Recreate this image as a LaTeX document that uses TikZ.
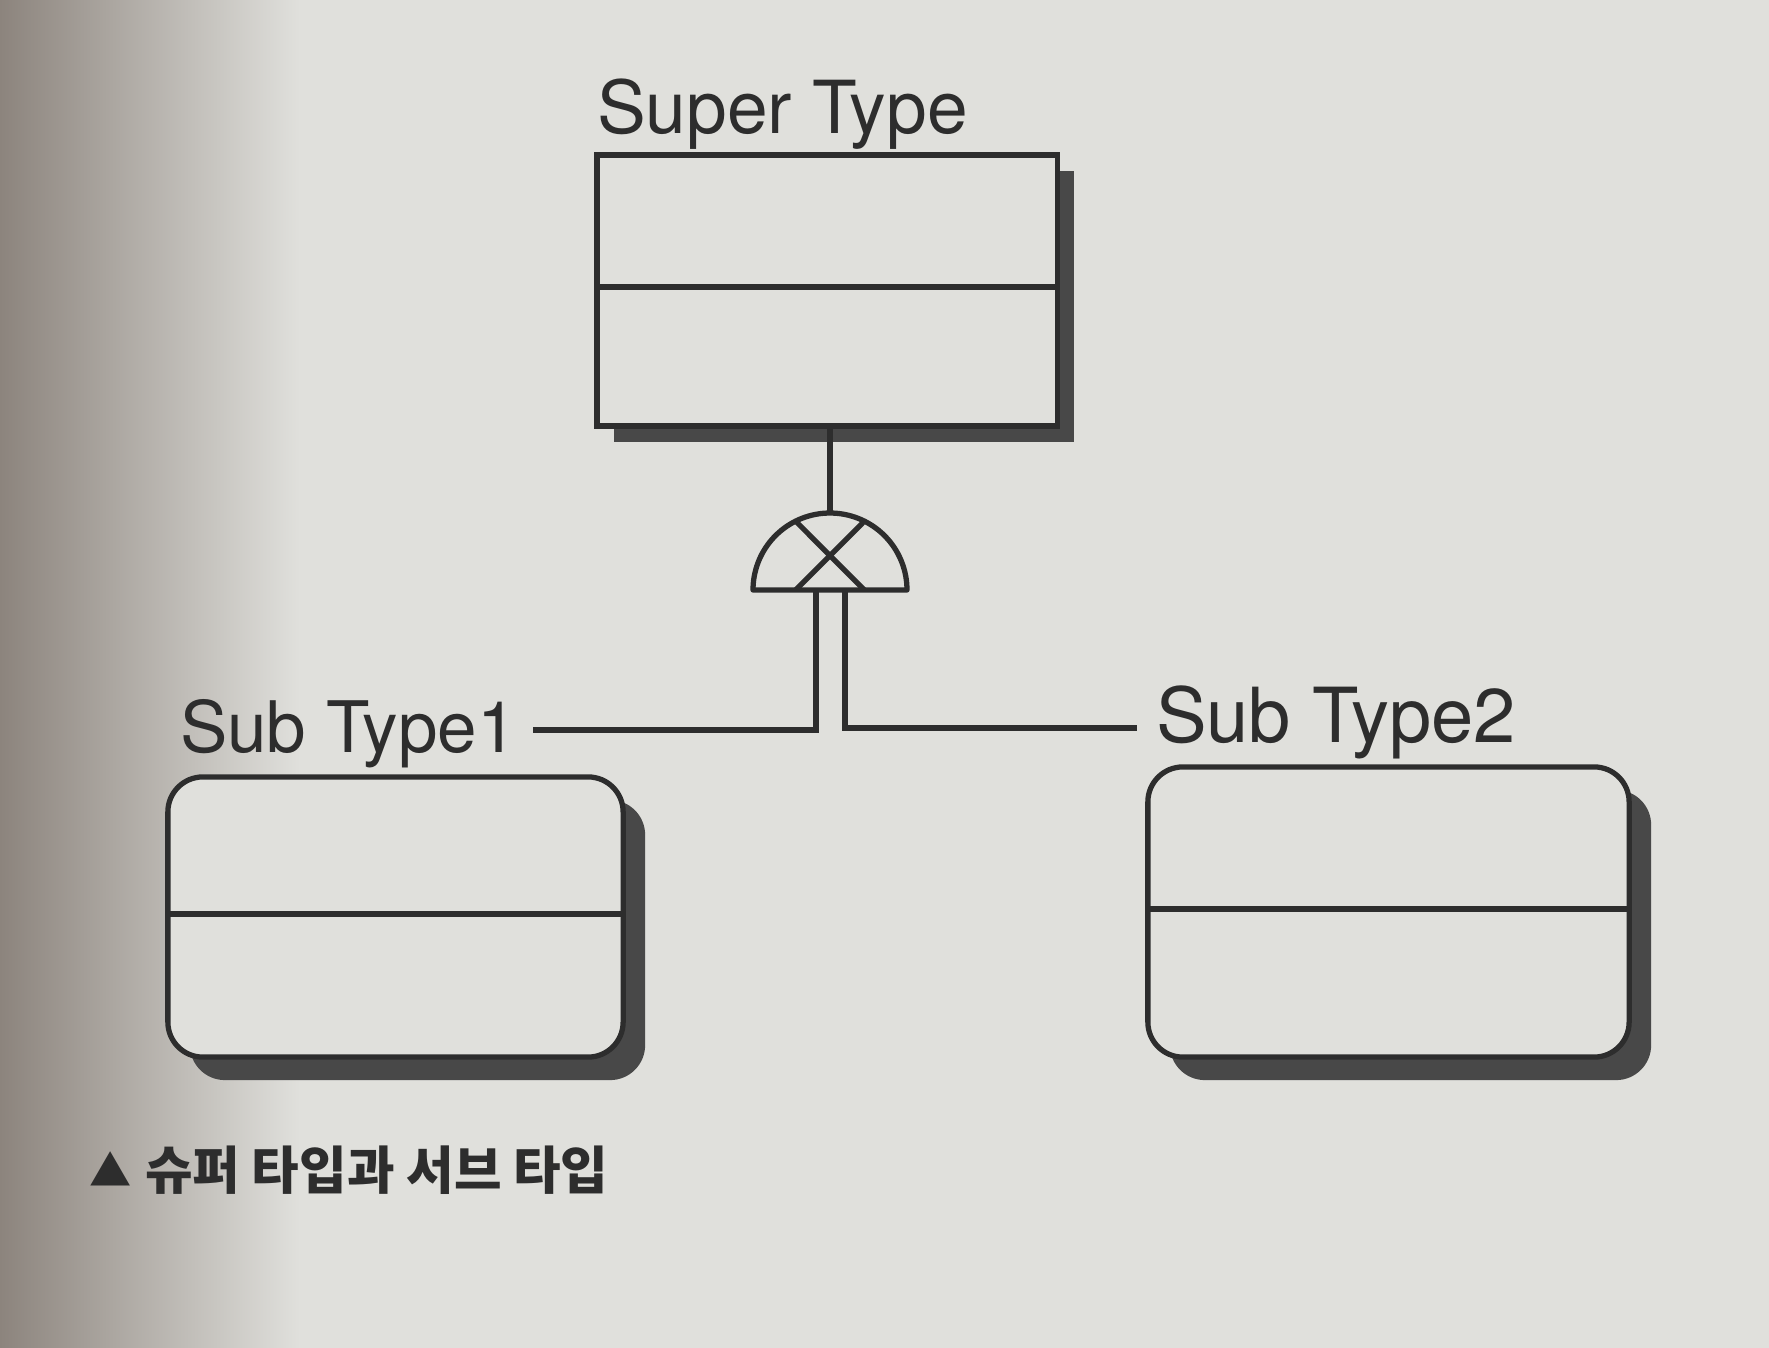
\documentclass[tikz,border=0pt]{standalone}
\usepackage{fontspec}
\setmainfont{TeX Gyre Heros}
\newfontfamily\kofont{Noto Sans CJK KR}
\usetikzlibrary{shadows,calc}
\definecolor{ink}{RGB}{45,45,45}
\definecolor{paper}{RGB}{224,224,220}
\definecolor{shadowgray}{RGB}{72,72,72}
\definecolor{edgegray}{RGB}{140,132,125}
\begin{document}
\begin{tikzpicture}[x=0.01cm,y=-0.01cm,
  ln/.style={draw=ink, line width=1.5pt},
  superbox/.style={ln, fill=paper, rectangle, inner sep=0pt, outer sep=0pt,
    drop shadow={shadow xshift=0.17cm, shadow yshift=-0.16cm, fill=shadowgray, opacity=1}},
  subbox/.style={ln, fill=paper, rectangle, rounded corners=0.35cm, inner sep=0pt, outer sep=0pt,
    drop shadow={shadow xshift=0.22cm, shadow yshift=-0.23cm, fill=shadowgray, opacity=1}},
  lab/.style={anchor=base west, inner sep=0pt, outer sep=0pt, text=ink},
]
% page
\fill[paper] (0,0) rectangle (1769,1348);
\useasboundingbox (0,0) rectangle (1769,1348);
\shade[left color=edgegray, right color=paper] (0,0) rectangle (300,1348);

% entity boxes
\node[superbox, minimum width=4.60cm, minimum height=2.71cm] (super) at (827,290.5) {};
\draw[ln] (super.west |- 0,287) -- (super.east |- 0,287);

\node[subbox, minimum width=4.55cm, minimum height=2.80cm] (sub1) at (395.5,917) {};
\draw[ln] (sub1.west |- 0,914) -- (sub1.east |- 0,914);

\node[subbox, minimum width=4.81cm, minimum height=2.90cm] (sub2) at (1388.5,912) {};
\draw[ln] (sub2.west |- 0,909) -- (sub2.east |- 0,909);

% labels
\node[lab, font=\fontsize{20.8}{25}\selectfont] (suplab) at (597,133) {Super Type};
\node[lab, font=\fontsize{20.2}{24}\selectfont] (sub1lab) at (180,752) {Sub Type1};
\node[lab, font=\fontsize{21.6}{26}\selectfont] (sub2lab) at (1156,742) {Sub Type2};
\node[lab, font=\kofont\bfseries\fontsize{12}{14}\selectfont] (tri) at (89,1186) {▲};
\node[lab, font=\kofont\bfseries\fontsize{14.7}{17}\selectfont] (caption) at (145,1189) {슈퍼 타입과 서브 타입};

% exclusive subtype symbol
\coordinate (dj) at (830,590);
\coordinate (djtop) at (830,513);
\coordinate (xa) at (795.6,521.1);
\coordinate (xb) at (864.4,590);
\coordinate (xc) at (864.4,521.1);
\coordinate (xd) at (795.6,590);
\draw[ln] (super.south -| djtop) -- (djtop);
\draw[ln, line join=round] plot[domain=180:360, samples=72] ({830+77*cos(\x)},{590+77*sin(\x)}) -- cycle;
\draw[ln] (xa) -- (xb);
\draw[ln] (xc) -- (xd);

% branches to subtypes
\coordinate (pl) at (816,590);
\coordinate (pr) at (845,590);
\coordinate (e1) at (533,730);
\coordinate (e2) at (1137,728);
\draw[ln] (pl) |- (e1);
\draw[ln] (pr) |- (e2);
\end{tikzpicture}
\end{document}
